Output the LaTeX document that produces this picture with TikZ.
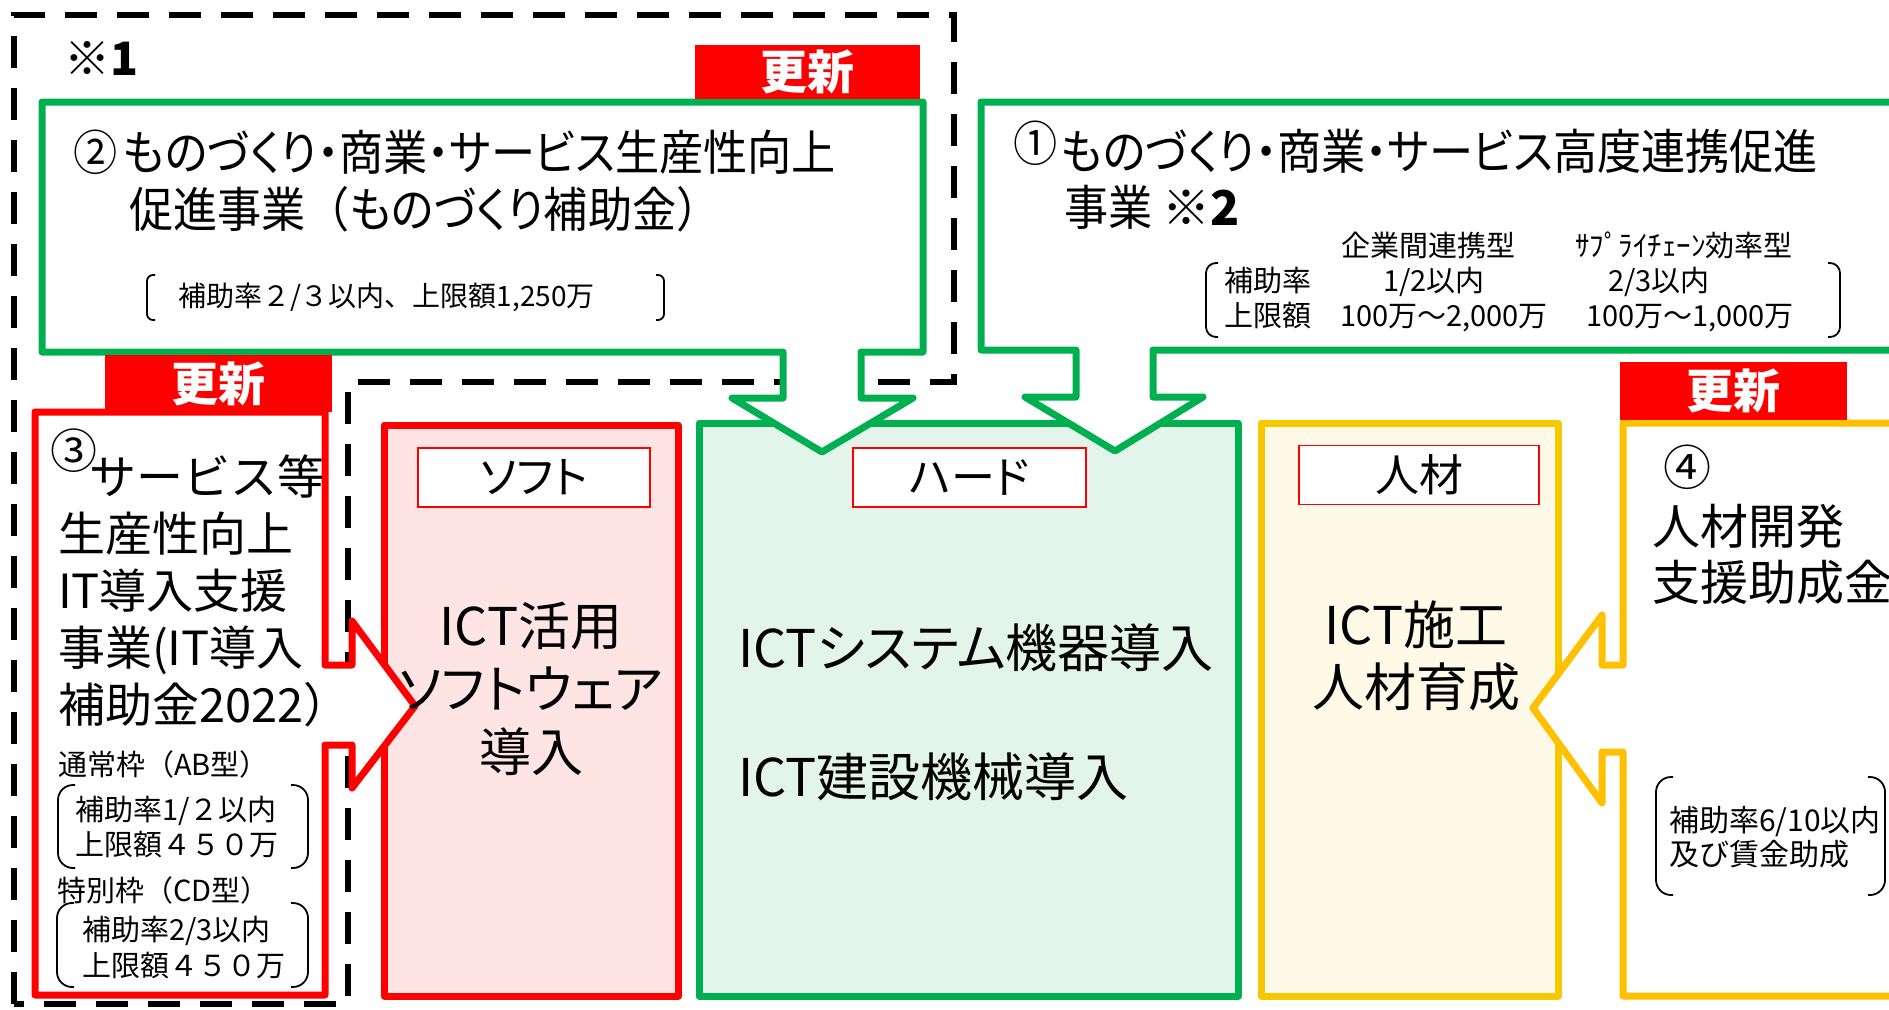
\documentclass[tikz,border=0pt]{standalone}
\usepackage{fontspec}
\setmainfont{Noto Sans CJK JP}
\newfontfamily\jpn{Noto Sans CJK JP}
\newfontfamily\jpp[RawFeature=+palt]{Noto Sans CJK JP}
\newfontfamily\jpt[RawFeature=+palt,FakeStretch=0.92]{Noto Sans CJK JP}
\newfontfamily\jptn[FakeStretch=0.92]{Noto Sans CJK JP}
\definecolor{gg}{HTML}{00B050}
\definecolor{rr}{HTML}{FF0000}
\definecolor{yy}{HTML}{FFC000}
\definecolor{yy2}{HTML}{F7C800}
\definecolor{pinkf}{HTML}{FFE4E4}
\definecolor{mintf}{HTML}{E3F5EA}
\definecolor{creamf}{HTML}{FFF9E7}
\newcommand\fsz[1]{\fontsize{#1}{#1}\selectfont}
\newcommand\bpair[5]{%
  \draw[brk,rounded corners=#5] ({#1+#5+2},#2) -- (#1,#2) -- (#1,#4) -- ({#1+#5+2},#4);
  \draw[brk,rounded corners=#5] ({#3-#5-2},#2) -- (#3,#2) -- (#3,#4) -- ({#3-#5-2},#4);}
\begin{document}
\begin{tikzpicture}[x=1pt,y=-1pt,
  every node/.style={inner sep=0pt, outer sep=0pt},
  calloutshape/.style={line width=7pt, line join=round, fill=white},
  dashbox/.style={line width=6.5pt, dash pattern=on 32pt off 20pt},
  bigbox/.style={line width=7pt, line join=round, draw},
  lblbox/.style={draw=rr, line width=1.5pt, fill=white, minimum height=59pt},
  koshin/.style={fill=rr, text=white, font=\jpn\bfseries\fsz{47}},
  brk/.style={line width=1.8pt, draw=black},
  ttl/.style={anchor=base west, font=\jpt\fsz{48}},
  tbl/.style={anchor=base, font=\jpn\fsz{29}},
  tblw/.style={anchor=base west, font=\jpn\fsz{29}},
  big3/.style={anchor=base west, font=\jpn\fsz{47}},
  sm3/.style={anchor=base west, font=\jpn\fsz{29}},
  mid/.style={font=\jpp\fsz{52}},
  midw/.style={font=\jpn\fsz{52}},
]
\useasboundingbox (0,0) rectangle (1889,1009);
\clip (0,0) rectangle (1889,1009);
\fill[white] (0,0) rectangle (1889,1009);

% dashed frame
\draw[dashbox] (14,1004) -- (14,15) -- (954,15) -- (954,382) -- (348,382) -- (348,1004) -- cycle;

% central boxes
\node[bigbox, draw=rr, fill=pinkf, minimum width=294pt, minimum height=571pt] (soft) at (531,710.5) {};
\node[bigbox, draw=gg, fill=mintf, minimum width=539pt, minimum height=573pt] (hard) at (968.5,709.5) {};
\node[bigbox, draw=yy2, fill=creamf, minimum width=297pt, minimum height=573pt] (jinzai) at (1409.5,709.5) {};

% callout shapes
\draw[calloutshape, draw=gg] (42,102) -- (923,102) -- (923,352) -- (861,352) -- (861,398) -- (913,398) -- (822,452) -- (732,398) -- (783,398) -- (783,352) -- (42,352) -- cycle;
\draw[calloutshape, draw=gg] (981,102) -- (1950,102) -- (1950,350) -- (1153,350) -- (1153,397) -- (1203,397) -- (1115,451) -- (1025,397) -- (1076,397) -- (1076,350) -- (981,350) -- cycle;
\draw[calloutshape, draw=rr] (35,412) -- (325,412) -- (325,665) -- (352,665) -- (352,621) -- (415,706) -- (352,788) -- (352,745) -- (325,745) -- (325,995) -- (35,995) -- cycle;
\draw[calloutshape, draw=yy] (1623,423) -- (1950,423) -- (1950,996) -- (1623,996) -- (1623,752) -- (1602,752) -- (1602,803) -- (1533,708) -- (1602,615) -- (1602,665) -- (1623,665) -- cycle;

% update tags
\node[koshin, minimum width=225pt, minimum height=54pt] (k2) at (807.5,72) {更新};
\node[koshin, minimum width=227pt, minimum height=57pt] (k3) at (218.5,383.5) {更新};
\node[koshin, minimum width=227pt, minimum height=58pt] (k4) at (1733.5,391) {更新};

% labels
\node[lblbox, minimum width=232pt, font=\jpp\fsz{44}] (lsoft) at (534,477.5) {ソフト};
\node[lblbox, minimum width=233pt, font=\jpp\fsz{44}] (lhard) at (969.5,477.5) {ハード};
\node[lblbox, minimum width=240pt, font=\jpn\fsz{44}] (ljin) at (1419,475) {人材};

% note 1
\node[anchor=base west, font=\jpn\bfseries\fsz{46}] (note1) at (64,75) {※1};

% box 2
\node[ttl] (t2a) at (73,170) {②\hspace{6pt}ものづくり・商業・サービス生産性向上};
\node[ttl] (t2b) at (129,227) {促進事業{\jptn （}ものづくり補助金{\jptn ）}};
\node[anchor=base west, font=\jpn\fsz{28}] (t2c) at (178,306) {補助率２/３以内、上限額1,250万};
\bpair{147}{275}{664}{320}{6}

% box 1
\node[ttl] (t1a) at (1013,169) {\raisebox{8pt}{①}\hspace{4pt}ものづくり・商業・サービス高度連携促進};
\node[ttl] (t1b) at (1064,225) {事業 {\jpn\bfseries ※2}};
\node[tbl] (h1) at (1428,256) {企業間連携型};
\node[tbl] (h2) at (1684,256) {ｻﾌﾟﾗｲﾁｪｰﾝ効率型};
\node[tblw] (r1) at (1224,291) {補助率};
\node[tbl] (r1a) at (1434,291) {1/2以内};
\node[tbl] (r1b) at (1659,291) {2/3以内};
\node[tblw] (r2) at (1224,326) {上限額};
\node[tbl] (r2a) at (1444,326) {100万～2,000万};
\node[tbl] (r2b) at (1690,326) {100万～1,000万};
\bpair{1206}{263}{1840}{337}{10}

% box 3
\node[big3] (t3a) at (50,494) {\raisebox{26pt}{③}\hspace{-8pt}サービス等};
\node[big3] (t3b) at (58,551) {生産性向上};
\node[big3] (t3c) at (58,608) {IT導入支援};
\node[big3] (t3d) at (58,665) {事業(IT導入};
\node[big3] (t3e) at (58,722) {補助金2022）};
\node[sm3] (t3f) at (58,775) {通常枠（AB型）};
\node[sm3] (t3g) at (75,820) {補助率1/２以内};
\node[sm3] (t3h) at (75,855) {上限額４５０万};
\node[sm3] (t3i) at (57,901) {特別枠（CD型）};
\node[sm3] (t3j) at (82,940) {補助率2/3以内};
\node[sm3] (t3k) at (82,976) {上限額４５０万};
\bpair{58}{785}{308}{868}{15}
\bpair{57}{903}{308}{987}{15}

% soft
\node[mid, anchor=base] (s1) at (531,645) {ICT活用};
\node[mid, anchor=base] (s2) at (531,708) {ソフトウェア};
\node[mid, anchor=base] (s3) at (531,771) {導入};

% hard
\node[mid, anchor=base west] (hd1) at (738,667) {ICTシステム機器導入};
\node[mid, anchor=base west] (hd2) at (738,796) {ICT建設機械導入};

% jinzai
\node[midw, anchor=base] (j1) at (1416,644) {ICT施工};
\node[midw, anchor=base] (j2) at (1416,706) {人材育成};

% box 4
\node[anchor=base west, font=\jpn\fsz{48}] (t4a) at (1663,485) {④};
\node[anchor=base west, font=\jpn\fsz{48}] (t4b) at (1652,544) {人材開発};
\node[anchor=base west, font=\jpn\fsz{48}] (t4c) at (1652,600) {支援助成金};
\node[anchor=base west, font=\jpn\fsz{30}] (t4d) at (1669,831) {補助率6/10以内};
\node[anchor=base west, font=\jpn\fsz{30}] (t4e) at (1669,865) {及び賃金助成};
\bpair{1656}{777}{1885}{895}{15}
\end{tikzpicture}
\end{document}
